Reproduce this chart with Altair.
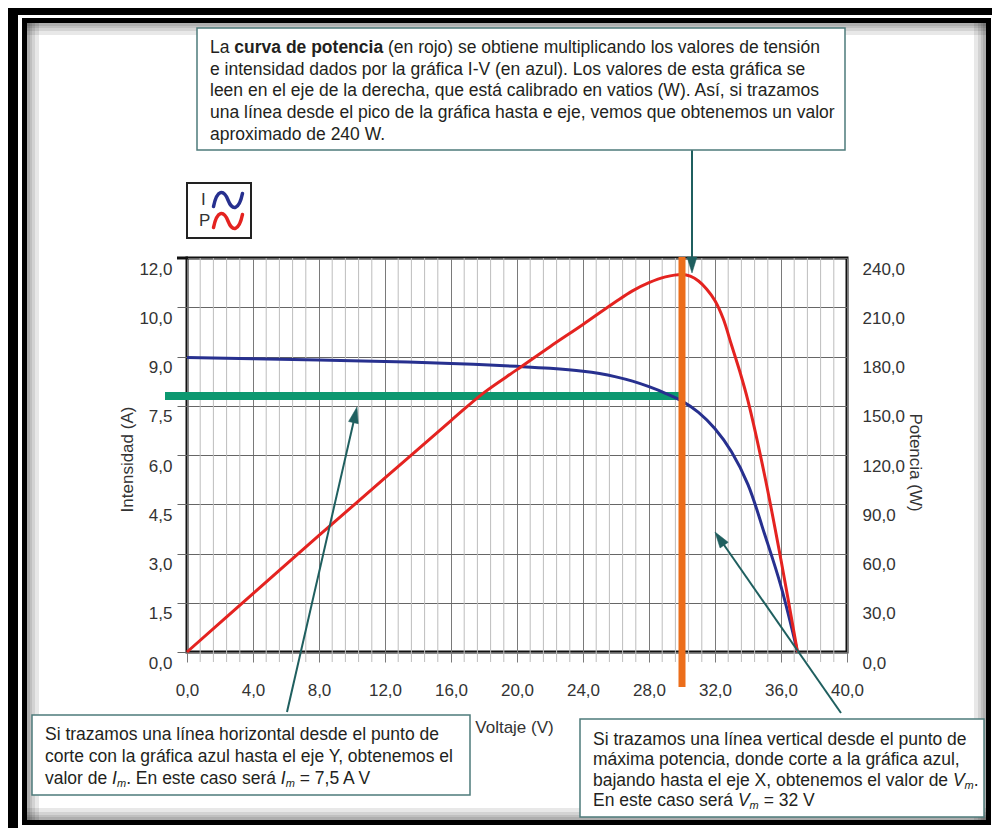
import math
import json
import altair as alt
import pandas as pd

# ---------------- data ----------------
V_iv = [0, 4, 8, 12, 16, 18, 20, 22, 24, 25, 26, 27, 28, 29, 30, 31, 32, 33, 34, 35, 36, 37.0]
I_iv = [8.97, 8.93, 8.89, 8.85, 8.79, 8.75, 8.70, 8.64, 8.55, 8.48, 8.38, 8.25, 8.08, 7.88, 7.64,
        7.30, 6.80, 6.10, 5.10, 3.60, 2.00, 0.0]
V_pw = [0, 4, 8, 12, 16, 18, 20, 22, 24, 26, 27, 28, 29, 30, 30.5, 31, 31.5, 32, 32.5, 33, 33.5,
        34, 35, 36, 37.0]
P_pw = [0, 35.5, 71, 106, 141, 158, 172, 186, 199.5, 213.5, 220, 225, 228.5, 230, 229, 226, 221,
        214, 203, 187, 171, 153, 108, 56, 0]
V_m = 30.0
I_m = 7.8

x_ticks = [0, 4, 8, 12, 16, 20, 24, 28, 32, 36, 40]
x_tick_labels = ["0,0", "4,0", "8,0", "12,0", "16,0", "20,0", "24,0", "28,0", "32,0", "36,0", "40,0"]
i_ticks = [0, 1.5, 3, 4.5, 6, 7.5, 9, 10.5, 12]
i_tick_labels = ["0,0", "1,5", "3,0", "4,5", "6,0", "7,5", "9,0", "10,0", "12,0"]
p_ticks = [0, 30, 60, 90, 120, 150, 180, 210, 240]
p_tick_labels = ["0,0", "30,0", "60,0", "90,0", "120,0", "150,0", "180,0", "210,0", "240,0"]
minor_x = [round(i * 0.8, 1) for i in range(51) if i % 5 != 0]

top_text = [
    [("La ", "n"), ("curva de potencia", "b"),
     (" (en rojo) se obtiene multiplicando los valores de tensión", "n")],
    [("e intensidad dados por la gráfica I-V (en azul). Los valores de esta gráfica se", "n")],
    [("leen en el eje de la derecha, que está calibrado en vatios (W). Así, si trazamos", "n")],
    [("una línea desde el pico de la gráfica hasta e eje, vemos que obtenemos un valor", "n")],
    [("aproximado de 240 W.", "n")],
]
left_text = [
    [("Si trazamos una línea horizontal desde el punto de", "n")],
    [("corte con la gráfica azul hasta el eje Y, obtenemos el", "n")],
    [("valor de ", "n"), ("I", "i"), ("m", "sub"), (". En este caso será ", "n"),
     ("I", "i"), ("m", "sub"), (" = 7,5 A V", "n")],
]
right_text = [
    [("Si trazamos una línea vertical desde el punto de", "n")],
    [("máxima potencia, donde corte a la gráfica azul,", "n")],
    [("bajando hasta el eje X, obtenemos el valor de ", "n"), ("V", "i"), ("m", "sub"), (".", "n")],
    [("En este caso será ", "n"), ("V", "i"), ("m", "sub"), (" = 32 V", "n")],
]

# ---------------- styling ----------------
FONT = "Liberation Sans, Arial, Helvetica, sans-serif"
BLUE = "#27308f"
RED = "#e42320"
ORANGE = "#ec6e1b"
GREEN = "#0c9870"
TEAL = "#1f5f5f"
BOXC = "#4e7b7b"
TXT = "#231f20"
LAB = "#333333"
TXT_SIZE = 17.5

X0, Y0 = 187, 258          # page position of plot origin


def px(x):
    return x - X0


def py(y):
    return y - Y0


ONE = alt.Data(values=[{"k": 0}])

REG = {' ': 278, '(': 333, ')': 333, ',': 278, '-': 333, '.': 278, '=': 584, 'A': 667, 'E': 667,
       'I': 278, 'L': 556, 'S': 667, 'V': 667, 'W': 944, 'X': 667, 'Y': 667, 'a': 556, 'b': 556,
       'c': 500, 'd': 556, 'e': 556, 'f': 278, 'g': 556, 'h': 556, 'i': 222, 'j': 222, 'l': 222,
       'm': 833, 'n': 556, 'o': 556, 'p': 556, 'q': 556, 'r': 333, 's': 500, 't': 278, 'u': 556,
       'v': 500, 'x': 500, 'y': 500, 'z': 500, 'á': 556, 'é': 556, 'í': 278, 'ó': 556, 'ú': 556}
BOLD = {' ': 278, 'a': 556, 'c': 556, 'd': 611, 'e': 556, 'i': 278, 'n': 611, 'o': 611, 'p': 611,
        'r': 389, 't': 333, 'u': 611, 'v': 556}


def tw(s, size, bold=False):
    tab = BOLD if bold else REG
    return sum(tab.get(ch, 556) for ch in s) * size / 1000.0


def rect(x1, y1, x2, y2, **kw):
    return alt.Chart(ONE).mark_rect(**kw).encode(
        x=alt.value(px(x1)), x2=alt.value(px(x2)), y=alt.value(py(y1)), y2=alt.value(py(y2)))


def rule(x1, y1, x2, y2, color, width):
    return alt.Chart(ONE).mark_rule(color=color, strokeWidth=width).encode(
        x=alt.value(px(x1)), x2=alt.value(px(x2)), y=alt.value(py(y1)), y2=alt.value(py(y2)))


def text(t, x, y, size=TXT_SIZE, color=TXT, **kw):
    return alt.Chart(ONE).mark_text(text=t, align="left", baseline="middle", font=FONT,
                                    fontSize=size, color=color, **kw).encode(
        x=alt.value(px(x)), y=alt.value(py(y)))


def text_line(segs, x, y, size=TXT_SIZE):
    cur = x
    out = []
    for s, st in segs:
        fs = 11 if st == "sub" else size
        bold = st == "b"
        lead = len(s) - len(s.lstrip(" "))
        t = s.strip(" ")
        if t:
            kw = {}
            if bold:
                kw["fontWeight"] = "bold"
            if st in ("i", "sub"):
                kw["fontStyle"] = "italic"
            yy = y + (5 if st == "sub" else 0)
            out.append(text(t, cur + tw(" " * lead, fs, bold), yy, size=fs, **kw))
        cur += tw(s, fs, bold)
    return out


HEAD = "M 0 -1 L 0.62 1 L -0.62 1 Z"
WAVE = "M -1 0.45 C -0.75 -0.75 -0.3 -0.75 0 0 C 0.3 0.75 0.75 0.75 1 -0.45"


def arrow(x1, y1, x2, y2, head=16):
    dx, dy = x2 - x1, y2 - y1
    L = math.hypot(dx, dy)
    ux, uy = dx / L, dy / L
    cx, cy = x2 - head / 2 * ux, y2 - head / 2 * uy
    ang = math.degrees(math.atan2(ux, -uy)) % 360
    shaft = rule(x1, y1, x2 - head * 0.8 * ux, y2 - head * 0.8 * uy, TEAL, 2)
    hd = alt.Chart(ONE).mark_point(shape=HEAD, size=head * head, filled=True, fill=TEAL,
                                   stroke=TEAL, strokeWidth=0.5, opacity=1, angle=ang).encode(
        x=alt.value(px(cx)), y=alt.value(py(cy)))
    return [shaft, hd]


# ---------------- background frame ----------------
bg = []
bg.append(rect(8, 8, 18, 828, fill="#000", strokeWidth=0))            # outer band left
bg.append(rect(8, 8, 992, 15, fill="#000", strokeWidth=0))            # outer band top
bg.append(rect(22, 18, 27, 825, fill="#000", strokeWidth=0))          # inner left line
bg.append(rect(22, 18, 991, 23, fill="#000", strokeWidth=0))          # inner top line
bg.append(rect(986, 18, 991, 825, fill="#000", strokeWidth=0))        # inner right line
bg.append(rect(22, 820, 991, 825, fill="#000", strokeWidth=0))        # inner bottom line
for w in (12, 8, 5, 3):
    bg.append(rect(27, 23, 27 + w, 820, fill="#000", opacity=0.09, strokeWidth=0))
    bg.append(rect(27, 23, 986, 23 + w, fill="#000", opacity=0.09, strokeWidth=0))
    bg.append(rect(986 - w, 23, 986, 820, fill="#000", opacity=0.09, strokeWidth=0))
    bg.append(rect(27, 820 - w, 986, 820, fill="#000", opacity=0.09, strokeWidth=0))

# ---------------- plot ----------------
XS = alt.Scale(domain=[0, 40], nice=False, zero=False)
IS = alt.Scale(domain=[0, 12], nice=False, zero=False)
PS = alt.Scale(domain=[0, 240], nice=False, zero=False)


def label_expr(ticks, labels):
    return f"{json.dumps(labels)}[indexof({json.dumps(ticks)}, datum.value)]"


x_axis = alt.Axis(values=x_ticks, labelExpr=label_expr(x_ticks, x_tick_labels), grid=True,
                  gridColor="#7a7a7a", gridWidth=1, ticks=True, tickSize=10, tickColor="#7a7a7a",
                  domain=False, labelFontSize=17, labelColor=LAB, labelPadding=28,
                  labelBaseline="middle", labelFlush=False, labelFont=FONT,
                  title="Voltaje (V)", titleFontSize=17, titleFontWeight="normal", titleColor=LAB,
                  titleFont=FONT, titleX=327, titleY=75, titleBaseline="middle", titleAlign="center")
i_axis = alt.Axis(orient="left", values=i_ticks, labelExpr=label_expr(i_ticks, i_tick_labels),
                  grid=True, gridColor="#666666", gridWidth=1, ticks=True, tickSize=10,
                  tickColor="#666666", domain=False, labelFontSize=17, labelColor=LAB,
                  labelPadding=5, labelOffset=11, labelBaseline="middle", labelFlush=False,
                  labelFont=FONT, title="Intensidad (A)", titleFontSize=17,
                  titleFontWeight="normal", titleColor=LAB, titleFont=FONT, titleAngle=270,
                  titleX=-60, titleY=201, titleAlign="center", titleBaseline="middle")
p_axis = alt.Axis(orient="right", values=p_ticks, labelExpr=label_expr(p_ticks, p_tick_labels),
                  grid=False, ticks=False, domain=False, labelFontSize=17, labelColor=LAB,
                  labelPadding=15, labelOffset=11, labelBaseline="middle", labelFlush=False,
                  labelFont=FONT, title="Potencia (W)", titleFontSize=17,
                  titleFontWeight="normal", titleColor=LAB, titleFont=FONT, titleAngle=90,
                  titleX=67, titleY=204, titleAlign="center", titleBaseline="middle")

minor = alt.Chart(pd.DataFrame({"V": minor_x})).mark_rule(color="#bdbdbd", strokeWidth=1).encode(
    x=alt.X("V:Q", scale=XS), y=alt.value(0), y2=alt.value(404))

df_iv = pd.DataFrame({"V": V_iv, "I": I_iv})
df_pw = pd.DataFrame({"V": V_pw, "P": P_pw})

blue = alt.Chart(df_iv).mark_line(color=BLUE, strokeWidth=3, interpolate="catmull-rom").encode(
    x=alt.X("V:Q", scale=XS, axis=x_axis), y=alt.Y("I:Q", scale=IS, axis=i_axis))
green = alt.Chart(pd.DataFrame({"V": [V_m], "I": [I_m]})).mark_rule(
    color=GREEN, strokeWidth=8).encode(
    x=alt.X("V:Q", scale=XS), x2=alt.value(px(165)), y=alt.Y("I:Q", scale=IS))
red = alt.Chart(df_pw).mark_line(color=RED, strokeWidth=3, interpolate="catmull-rom").encode(
    x=alt.X("V:Q", scale=XS), y=alt.Y("P:Q", scale=PS, axis=p_axis))
orange = alt.Chart(pd.DataFrame({"V": [V_m]})).mark_rule(color=ORANGE, strokeWidth=7).encode(
    x=alt.X("V:Q", scale=XS), y=alt.value(py(257)), y2=alt.value(py(687)))

# ---------------- annotations ----------------
ann = []
ann.append(rule(177, 258, 188, 258, "#111", 3))
# legend
ann.append(rect(187, 183, 251, 238, fill="white", stroke="#222", strokeWidth=2))
ann.append(text("I", 201, 200, size=17, color=LAB))
ann.append(text("P", 199, 221, size=17, color=LAB))
for yy, col in ((200, BLUE), (221, RED)):
    ann.append(alt.Chart(ONE).mark_point(shape=WAVE, size=841, filled=False, stroke=col,
                                         strokeWidth=3.5, opacity=1, strokeCap="round").encode(
        x=alt.value(px(228)), y=alt.value(py(yy))))
# arrows
ann += arrow(692, 150, 692, 273)
ann += arrow(287, 712, 357, 407)
ann += arrow(841, 713, 715, 532)
# boxes
ann.append(rect(197, 28, 845, 150, fill="white", stroke=BOXC, strokeWidth=1.5))
ann.append(rect(32, 715, 470, 795, fill="white", stroke=BOXC, strokeWidth=1.5))
ann.append(rect(580, 719, 984, 817, fill="white", stroke=BOXC, strokeWidth=1.5))
for i, segs in enumerate(top_text):
    ann += text_line(segs, 210, 48 + i * 21.7)
for i, segs in enumerate(left_text):
    ann += text_line(segs, 45, 735 + i * 22)
for i, segs in enumerate(right_text):
    ann += text_line(segs, 593, 740 + i * 20.3)

chart = alt.layer(*bg, minor, alt.layer(green, blue), red, orange, *ann).resolve_scale(
    y="independent"
).properties(
    width=660, height=394,
    padding={"left": 179, "top": 250, "right": 145, "bottom": 176},
    autosize=alt.AutoSizeParams(type="none"),
    background="white",
).configure_view(stroke="#111", strokeWidth=3)

chart.save("out.html", embed_options={"renderer": "svg", "actions": False})
